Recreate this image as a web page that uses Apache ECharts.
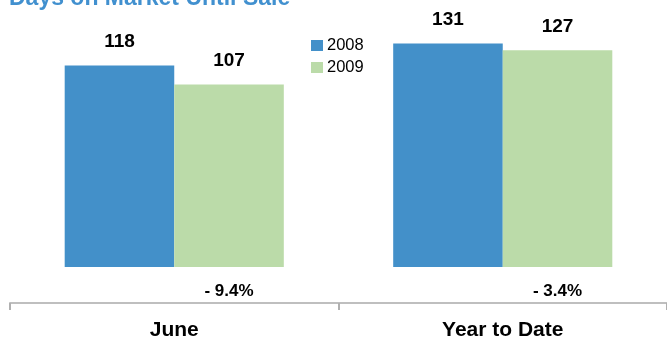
<!DOCTYPE html>
<html>
<head>
<meta charset="utf-8">
<script src="https://cdn.jsdelivr.net/npm/echarts@6/dist/echarts.min.js"></script>
<style>html,body{margin:0;padding:0;background:#fff;}#c{width:667px;height:341px;}</style>
</head>
<body>
<div id="c"></div>
<script>
const categories = ['June', 'Year to Date'];
const seriesNames = ['2008', '2009'];
const values2008 = [118, 131];
const values2009 = [107, 127];
const changeLabels = ['- 9.4%', '- 3.4%'];

const FONT = 'Arial, "Liberation Sans", sans-serif';
const chart = echarts.init(document.getElementById('c'), null, {renderer: 'canvas'});
chart.setOption({
  animation: false,
  backgroundColor: '#ffffff',
  title: {
    text: 'Days on Market Until Sale',
    left: 9, top: -13, padding: 0,
    textStyle: {color: '#4190cf', fontFamily: FONT, fontWeight: 'bold', fontSize: 23, lineHeight: 23}
  },
  legend: {
    data: seriesNames,
    orient: 'vertical',
    left: 311, top: 37, padding: 0,
    itemWidth: 12, itemHeight: 11, itemGap: 5,
    icon: 'rect',
    textStyle: {color: '#000', fontFamily: FONT, fontSize: 16.5, padding: [0, 0, 0, -1]}
  },
  grid: {left: 10, right: -3, top: 11, bottom: 73, containLabel: false},
  xAxis: {
    type: 'category',
    data: categories,
    offset: 36,
    axisLine: {onZero: false, lineStyle: {color: '#bfbfbf', width: 2}},
    axisTick: {show: true, length: 7, lineStyle: {color: '#b0b0b0', width: 2}},
    axisLabel: {color: '#000', fontFamily: FONT, fontWeight: 'bold', fontSize: 21, margin: 17}
  },
  yAxis: {type: 'value', min: 0, max: 150, show: false, splitLine: {show: false}},
  series: [
    {
      name: seriesNames[0], type: 'bar', data: values2008,
      barGap: '0%', barCategoryGap: '33.3%',
      itemStyle: {color: '#4390c9'},
      label: {show: true, position: 'top', distance: 14, color: '#000', fontFamily: FONT, fontWeight: 'bold', fontSize: 19}
    },
    {
      name: seriesNames[1], type: 'bar', data: values2009,
      barGap: '0%', barCategoryGap: '33.3%',
      itemStyle: {color: '#bbdba9'},
      label: {show: true, position: 'top', distance: 14, color: '#000', fontFamily: FONT, fontWeight: 'bold', fontSize: 19}
    },
    {
      type: 'custom',
      data: changeLabels.map((t, i) => [i, 0]),
      silent: true,
      renderItem: function (params, api) {
        const pt = api.coord([api.value(0), 0]);
        const band = api.size([1, 0])[0];
        return {
          type: 'text',
          x: pt[0] + band / 6,
          y: pt[1] + 24,
          style: {
            text: changeLabels[params.dataIndex],
            fill: '#000',
            font: 'bold 17px ' + FONT,
            align: 'center',
            verticalAlign: 'middle'
          }
        };
      }
    }
  ]
});
</script>
</body>
</html>
